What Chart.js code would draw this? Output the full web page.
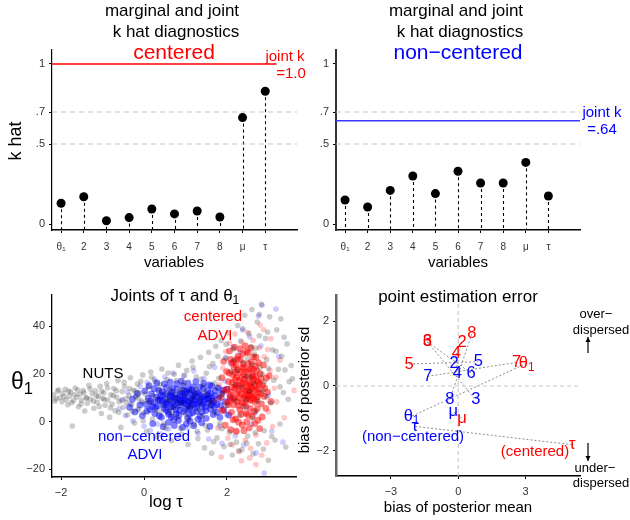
<!DOCTYPE html>
<html><head><meta charset="utf-8">
<script src="https://cdn.jsdelivr.net/npm/chart.js@4"></script>
<style>
body{margin:0;background:#fff}
#wrap{position:relative;width:630px;height:520px;overflow:hidden;background:#fff}
canvas{position:absolute}
</style></head>
<body><div id="wrap">
<canvas id="c1" width="315" height="280" style="left:0;top:0"></canvas>
<canvas id="c2" width="315" height="280" style="left:315px;top:0"></canvas>
<canvas id="c3" width="300" height="240" style="left:0;top:280px"></canvas>
<canvas id="c4" width="335" height="240" style="left:295px;top:280px"></canvas>
</div>
<script>
// ---------------- DATA ----------------
const variableLabels = ['θ₁','2','3','4','5','6','7','8','μ','τ'];
const khatCentered    = [0.13, 0.17, 0.02, 0.04, 0.094, 0.063, 0.081, 0.044, 0.665, 0.83];
const khatNonCentered = [0.15, 0.106, 0.21, 0.30, 0.19, 0.33, 0.256, 0.256, 0.385, 0.175];
const jointKCentered = 1.0;
const jointKNonCentered = 0.645;
const khatTicks = [0, 0.5, 0.7, 1];
const khatTickLabels = ['0', '.5', '.7', '1'];
const khatRefLines = [0.5, 0.7];

const nutsDraws = [[-2.18,11.2],[-2.12,9.6],[-2.09,12.8],[-2.03,10.1],[-1.98,8.4],[-1.96,11.9],[-1.9,13.6],[-1.88,9.2],[-1.84,7.1],[-1.8,10.7],[-1.77,12.4],[-1.73,-1.8],[-1.7,8.8],[-1.66,14.1],[-1.62,10.3],[-1.58,6.2],[-1.55,11.5],[-1.51,9.0],[-1.47,13.0],[-1.43,4.5],[-1.4,10.0],[-1.37,7.7],[-1.33,15.2],[-1.29,9.4],[-1.25,11.8],[-1.21,5.6],[-1.17,12.9],[-1.13,8.1],[-1.1,10.6],[-1.06,14.8],[-1.03,3.4],[-1.0,9.8],
[-0.97,12.1],[-0.94,6.9],[-0.9,16.0],[-0.87,9.1],[-0.83,1.9],[-0.8,11.3],[-0.77,7.4],[-0.73,13.9],[-0.7,4.6],[-0.66,10.2],[-0.63,17.3],[-0.6,8.3],[-0.56,-2.4],[-0.53,12.6],[-0.5,6.0],[-0.47,14.7],[-0.43,9.7],[-0.4,2.8],[-0.36,11.0],[-0.33,18.4],[-0.3,7.2],[-0.26,13.3],[-0.23,-0.6],[-0.2,10.5],[-0.16,15.8],[-0.13,5.3],[-0.1,12.0],[-0.06,8.6],[-0.03,19.6],[0.0,3.7],
[0.03,11.6],[0.06,-4.1],[0.1,14.5],[0.13,7.9],[0.16,20.8],[0.2,1.1],[0.23,10.8],[0.26,16.9],[0.3,-6.3],[0.33,9.3],[0.36,13.4],[0.4,4.0],[0.43,22.1],[0.46,7.0],[0.5,11.9],[0.53,-2.9],[0.56,17.6],[0.6,8.9],[0.63,14.0],[0.66,-8.0],[0.7,5.9],[0.73,19.9],[0.76,10.4],[0.8,1.6],[0.83,23.7],[0.86,12.8],[0.9,-5.2],[0.93,8.0],[0.96,16.3],[1.0,3.1],[1.03,21.5],[1.06,-9.6],[1.1,13.0],[1.13,6.5],[1.16,25.4],[1.2,-1.2],[1.23,11.7],[1.26,18.8],[1.3,-7.1],[1.33,9.8],[1.36,27.0],[1.4,2.3],[1.43,15.1],[1.46,-11.0],[1.5,20.3],
[0.55,9.5],[0.7,12.3],[0.85,6.4],[0.98,10.9],[1.12,8.7],[1.25,13.6],[1.38,7.5],[1.52,11.1],[1.64,9.0],[1.76,14.5],[0.62,5.0],[0.78,8.4],[0.92,13.7],[1.05,5.7],[1.18,10.2],[1.32,4.9],[1.45,12.5],[1.58,6.6],[1.7,16.2],[1.82,10.4],
[1.53,-3.5],[1.56,29.1],[1.6,8.1],[1.63,-13.2],[1.66,24.4],[1.7,3.8],[1.73,31.6],[1.76,-6.8],[1.8,18.2],[1.83,-0.7],[1.86,34.0],[1.9,12.0],[1.93,-10.4],[1.96,26.7],[2.0,6.9],[2.03,37.2],[2.06,-4.5],[2.1,21.0],[2.13,-14.0],[2.16,30.5],[2.2,15.5],[2.23,-8.6],[2.26,40.3],[2.3,2.6],
[2.33,33.8],[2.36,-11.8],[2.4,24.9],[2.43,44.6],[2.46,9.1],[2.5,-6.0],[2.53,36.9],[2.56,18.6],[2.6,47.0],[2.63,-13.5],[2.66,28.3],[2.7,4.4],[2.73,41.8],[2.76,-9.3],[2.8,22.7],[2.83,49.2],[2.86,13.1],[2.9,-3.8],[2.93,34.9],[2.96,26.0],[3.0,-16.2],[3.03,44.0],[3.06,7.8],[3.1,30.1],[3.13,17.4],[3.16,-7.7],[3.2,38.5],[3.24,22.0],[3.28,-1.0],[3.32,27.4],[3.36,12.2],[3.4,21.7],[3.45,32.6],[3.5,16.8],[3.42,-10.6],[3.3,43.1],[3.55,23.5],[2.45,19.0],[2.55,12.5],[2.65,16.0],[2.75,8.5],[2.35,14.5],[2.85,20.0],[2.95,10.5],[2.25,21.5],[2.7,30.8],[2.5,26.5],[2.4,6.0],[2.62,1.5],[2.78,36.0],
[-2.15,8.7],[-2.06,13.4],[-1.93,10.5],[-1.82,12.8],[-1.75,8.0],[-1.68,11.3],[-1.6,13.3],[-1.52,7.4],[-1.45,12.1],[-1.38,9.9],[-1.3,13.7],[-1.22,8.6],[-1.15,10.8],[-1.08,6.4],[-1.02,12.7],[-0.96,9.3],[-0.88,14.2],[-0.81,5.8],[-0.74,10.9],[-0.67,13.0],[-0.61,3.9],[-0.54,9.0],[-0.48,16.5],[-0.42,7.9],[-0.35,13.9],[-0.28,4.4],[-0.21,12.8],[-0.14,9.8],[-0.08,16.9],[-0.02,0.4],
[0.08,8.8],[0.18,18.6],[0.28,4.6],[0.38,15.6],[0.48,-0.9],[0.58,20.4],[0.68,3.3],[0.78,17.2],[0.88,-2.8],[0.98,19.4],[1.08,0.9],[1.18,22.8],[1.28,-4.0],[1.38,17.9],[1.48,-1.6],[1.58,23.1],[1.68,-8.4],[1.78,27.4],[1.88,-3.0],[1.98,32.5],[2.08,-9.5],[2.18,25.8],[2.28,-12.2],[2.38,38.9],[2.48,-9.0],[2.58,31.4],[2.68,-4.6],[2.78,45.0],[2.88,-11.5],[2.98,37.6],[3.08,-6.2],[3.18,29.5],[3.28,14.6],[3.38,35.4],[3.48,9.4],[3.58,18.0],[2.9,16.6],[3.0,22.4],[2.6,24.0],[2.2,8.9]];

const nonCenteredDense = [[0.05,7.2],[0.1,9.8],[0.14,5.1],[0.18,11.6],[0.22,8.0],[0.26,3.4],[0.3,10.3],[0.33,6.6],[0.36,13.1],[0.39,8.9],[0.42,1.8],[0.45,11.0],[0.48,5.7],[0.51,9.4],[0.54,14.3],[0.57,7.3],[0.6,3.0],[0.62,10.7],[0.65,6.1],[0.67,12.5],[0.7,8.4],[0.72,0.9],[0.75,9.9],[0.77,5.0],[0.8,13.6],[0.82,7.8],[0.84,2.6],[0.87,11.4],[0.89,6.9],[0.91,9.1],[0.94,15.0],[0.96,4.2],[0.98,10.0],[1.0,7.5],[1.03,12.8],[1.05,1.5],[1.07,8.6],[1.1,5.5],[1.12,11.9],[1.14,9.3],[1.17,3.7],[1.19,14.6],[1.22,7.0],[1.24,10.5],[1.27,5.9],[1.29,12.2],[1.32,8.2],[1.35,2.2],[1.37,10.9],[1.4,6.4],[1.43,13.9],[1.46,8.8],[1.49,4.6],[1.52,11.3],[1.55,7.7],[1.58,15.4],[1.61,5.3],[1.64,10.1],[1.68,8.0],[1.72,12.9],[1.76,3.9],[1.8,9.6],[1.85,6.8],[1.9,13.2],
[0.2,6.3],[0.35,9.0],[0.5,7.1],[0.64,8.8],[0.76,11.2],[0.86,4.8],[0.95,7.9],[1.04,10.3],[1.13,6.3],[1.23,9.0],[1.33,11.6],[1.42,7.4],[1.51,9.5],[1.6,12.1],[1.7,6.0],[0.44,12.6],[0.58,4.1],[0.71,6.2],[0.81,9.6],[0.92,12.0],[1.01,5.2],[1.09,8.0],[1.18,11.0],[1.28,7.4],[1.38,9.8],[1.48,6.1],[1.57,10.6],[1.66,8.6],[0.68,10.2],[0.88,8.3],[1.08,13.5],[1.26,4.3],[1.45,10.4],[0.98,9.0],[1.16,7.6],[0.78,3.4],
[-0.35,6.0],[-0.28,9.4],[-0.22,4.1],[-0.16,11.8],[-0.1,7.0],[-0.04,2.5],[0.02,12.9],[0.07,4.4],[0.12,15.1],[0.16,8.7],[0.21,-0.8],[0.24,13.8],[0.28,5.9],[0.31,16.2],[0.37,2.4],[0.4,10.8],[0.46,-2.1],[0.49,15.8],[0.53,4.9],[0.56,11.8],[0.59,-0.3],[0.63,16.6],[0.66,2.0],[0.69,14.1],[0.73,-1.6],[0.79,15.9],[0.83,0.5],[0.9,17.0],[0.93,-2.4],[0.97,13.0],[1.02,-0.9],[1.06,16.1],[1.11,0.2],[1.15,13.4],[1.2,-1.7],[1.25,16.8],[1.3,1.0],[1.34,14.5],[1.39,-0.5],[1.44,16.0],[1.5,1.4],[1.54,13.0],[1.59,-2.0],[1.63,15.0],[1.67,3.0],[1.71,10.9],[1.75,7.2],[1.79,14.2],[1.83,1.8],[1.87,11.6],[1.92,5.0],[1.96,8.4],[2.0,13.6],[2.04,2.8],[2.08,10.2],[0.55,8.0],[0.74,7.1],[0.9,10.6],[1.06,6.7],[1.22,12.0],[1.36,8.6],[1.55,9.6],[1.2,9.4],[0.84,9.0],[1.0,12.1],[0.64,11.4],[1.4,4.0],[1.1,3.0],[0.45,8.4],[1.62,7.1]];
const nonCenteredSparse = [[-0.6,5.5],[-0.52,9.2],[-0.45,2.6],[-0.4,12.4],[-0.33,7.3],[-0.27,0.4],[-0.2,10.6],[-0.15,4.9],[-0.1,14.8],[-0.05,8.0],[0.0,-1.9],[0.08,16.4],[0.15,-3.6],[0.25,17.9],[0.32,-1.0],[0.41,-5.2],[0.5,18.7],[0.6,-3.1],[0.7,20.4],[0.82,-6.4],[0.95,19.2],[1.06,-2.5],[1.2,21.3],[1.3,-4.9],[1.45,18.1],[1.56,-7.3],[1.7,22.8],[1.82,-1.8],[1.95,17.0],[2.0,3.0],[2.08,24.6],[2.12,9.5],[2.2,-5.9],[2.25,15.5],[2.32,29.2],[2.4,-9.8],[2.48,6.0],[2.55,35.6],[2.62,20.2],[2.7,-13.1],[2.76,44.3],[2.85,48.8],[2.9,-21.5],[3.0,11.0],[3.08,-4.0],[3.18,47.2],[3.25,27.3],[3.35,-8.6],[2.38,38.4],[2.6,-1.0],[2.15,31.4],[1.98,26.8],[1.88,-9.1],[2.45,12.8],[2.68,3.6],[2.82,31.8]];

const centeredDense = [[2.0,13.5],[2.03,7.1],[2.05,20.4],[2.07,11.2],[2.09,26.1],[2.11,3.9],[2.13,16.5],[2.15,9.6],[2.17,22.8],[2.19,14.1],[2.21,1.2],[2.23,18.7],[2.25,8.4],[2.27,27.5],[2.29,12.6],[2.31,5.0],[2.33,20.9],[2.35,15.7],[2.37,-1.4],[2.39,24.2],[2.41,10.3],[2.43,17.9],[2.45,6.6],[2.47,29.3],[2.49,13.0],[2.51,2.8],[2.53,21.6],[2.55,16.1],[2.57,8.9],[2.59,25.0],[2.61,11.8],[2.63,19.4],[2.65,4.3],[2.67,14.8],[2.69,23.3],[2.71,9.2],[2.73,17.0],[2.75,0.6],[2.77,12.2],[2.8,20.1],[2.83,7.4],[2.86,15.3],[2.9,10.6],[2.95,18.3],
[2.04,16.8],[2.1,12.3],[2.14,19.6],[2.18,10.0],[2.22,15.0],[2.26,21.7],[2.3,17.2],[2.34,11.4],[2.38,13.8],[2.42,22.4],[2.46,15.9],[2.5,18.6],[2.54,12.9],[2.58,14.5],[2.62,16.7],[2.66,10.8],[2.7,19.0],[2.74,13.7],[2.78,15.6],[2.82,11.7],[2.08,9.0],[2.16,25.2],[2.24,12.0],[2.28,6.8],[2.36,8.0],[2.4,19.8],[2.44,13.2],[2.48,9.7],[2.52,24.3],[2.56,5.6],[2.6,14.0],[2.64,27.2],[2.68,8.1],[2.72,21.3],[2.76,16.4],[2.32,26.0],[2.2,17.6],[2.12,14.4],[2.56,11.0],[2.46,3.5],
[1.86,10.2],[1.88,18.4],[1.9,4.6],[1.92,25.3],[1.94,13.0],[1.96,-1.5],[1.99,21.0],[2.01,8.1],[2.06,29.6],[2.09,-3.4],[2.12,24.5],[2.15,0.8],[2.18,31.2],[2.22,-4.0],[2.25,26.3],[2.28,-0.2],[2.31,30.6],[2.35,3.1],[2.38,28.4],[2.41,-3.8],[2.44,31.8],[2.48,0.0],[2.51,28.9],[2.54,-2.6],[2.58,30.9],[2.61,2.2],[2.64,22.0],[2.67,-0.8],[2.7,27.0],[2.73,5.5],[2.76,24.7],[2.79,-2.9],[2.82,18.0],[2.85,2.0],[2.88,23.8],[2.91,14.0],[2.94,5.6],[2.98,12.4],[3.02,19.2],[3.06,8.5],[2.3,10.0],[2.4,16.4],[2.5,11.2],[2.6,19.0],[2.7,13.4],[2.2,20.5],[2.34,18.4],[2.47,20.8],[2.55,9.4],[2.65,17.8],[2.28,14.9],[2.42,7.8],[2.52,15.2],[2.62,9.8],[2.16,7.0],[2.74,10.4],[2.38,22.8],[2.58,22.2],[2.44,10.9],[2.22,23.6]];
const centeredSparse = [[1.72,9.0],[1.78,-2.7],[1.82,15.6],[1.86,-14.8],[1.9,22.5],[1.93,4.8],[1.97,29.4],[2.02,-6.9],[2.06,33.0],[2.13,-9.7],[2.19,36.8],[2.24,-4.3],[2.3,-12.6],[2.36,33.4],[2.44,-7.8],[2.5,37.5],[2.57,-11.2],[2.63,34.1],[2.7,-5.6],[2.78,31.0],[2.84,-14.1],[2.9,27.2],[2.96,-8.9],[3.0,4.2],[3.04,21.5],[3.1,-2.0],[3.14,14.0],[3.2,8.3],[3.28,25.8],[3.38,1.6],[3.62,13.1],[3.06,34.8],[2.88,38.6],[2.55,-15.2],[2.7,-18.0],[2.35,-16.4],[2.98,30.2],[3.18,18.6],[1.85,5.2],[2.8,40.5]];
const logTauTicks = [-2, 0, 2];
const theta1Ticks = [-20, 0, 20, 40];

const meanBiasCentered    = [3.05, 0.17, -1.38, -0.08, -2.19, -1.38, 2.6, 0.61, 0.17, 5.08];
const sdBiasCentered      = [0.70, 1.36, 1.37, 1.02, 0.68, 1.37, 0.73, 1.62, -1.0, -1.82];
const meanBiasNonCentered = [-2.08, -0.18, 0.78, -0.04, 0.9, 0.57, -1.36, -0.37, -0.22, -1.94];
const sdBiasNonCentered   = [-0.94, 0.70, -0.43, 0.38, 0.75, 0.40, 0.30, -0.42, -0.80, -1.25];
const biasMeanTicks = [-3, 0, 3];
const biasSdTicks = [-2, 0, 2];

// ---------------- HELPERS ----------------
const FONT = "'Liberation Sans', Arial, Helvetica, sans-serif";
Chart.defaults.font.family = FONT;
Chart.defaults.color = '#333';
const RED = '#ff0000', BLUE = '#0000ff';

function drawRich(ctx, text, x, y, size, color, align) {
  ctx.fillStyle = color; ctx.textBaseline = 'middle';
  const parts = text.split('₁');
  ctx.font = size + 'px ' + FONT;
  if (parts.length === 1) { ctx.textAlign = align || 'center'; ctx.fillText(text, x, y); return; }
  const w1 = ctx.measureText(parts[0]).width;
  const ss = size * 0.72;
  ctx.font = ss + 'px ' + FONT; const w2 = ctx.measureText('1').width;
  ctx.font = size + 'px ' + FONT; const w3 = ctx.measureText(parts[1]).width;
  const total = w1 + w2 + w3;
  const a = align || 'center';
  let x0 = a === 'center' ? x - total / 2 : (a === 'right' ? x - total : x);
  ctx.textAlign = 'left';
  ctx.fillText(parts[0], x0, y);
  ctx.font = ss + 'px ' + FONT; ctx.fillText('1', x0 + w1, y + size * 0.28);
  ctx.font = size + 'px ' + FONT; ctx.fillText(parts[1], x0 + w1 + w2, y);
}

function textPlugin(items, offX, offY, extra) {
  return { id: 'texts', afterDraw(chart) {
    const ctx = chart.ctx; ctx.save();
    items.forEach(it => {
      const x = it.x - offX, y = it.y - offY;
      if (it.rot) {
        ctx.save(); ctx.translate(x, y); ctx.rotate(-Math.PI / 2);
        drawRich(ctx, it.t, 0, 0, it.size, it.color || '#000', 'center'); ctx.restore();
      } else drawRich(ctx, it.t, x, y, it.size, it.color || '#000', it.align || 'center');
    });
    if (extra) extra(ctx, offX, offY);
    ctx.restore();
  }};
}

const stemPlugin = { id: 'stems', beforeDatasetsDraw(chart) {
  const meta = chart.getDatasetMeta(0); const ctx = chart.ctx;
  const yb = chart.chartArea.bottom;
  ctx.save(); ctx.setLineDash([3, 3]); ctx.strokeStyle = '#000'; ctx.lineWidth = 1.1;
  meta.data.forEach(p => { ctx.beginPath(); ctx.moveTo(Math.round(p.x) + 0.5, p.y); ctx.lineTo(Math.round(p.x) + 0.5, yb); ctx.stroke(); });
  ctx.restore();
}};

function fixedTicks(vals) { return s => { s.ticks = vals.map(v => ({ value: v })); }; }
function fmtMinus(v) { return String(v).replace('-', '−'); }

const K_XMIN = 0.6, K_XMAX = 11.4, K_YMIN = -0.0375, K_YMAX = 1.0875;

function khatChart(id, vals, joint, jointColor, jointEnd, yWidth, padRight, yBorder, texts, offX) {
  return new Chart(document.getElementById(id), {
    type: 'scatter',
    data: { datasets: [
      { data: vals.map((v, i) => ({ x: i + 1, y: v })), pointRadius: 4.5, pointHoverRadius: 4.5, backgroundColor: '#000', borderColor: '#000', borderWidth: 0, order: 0 },
      { data: [{ x: K_XMIN, y: joint }, { x: jointEnd, y: joint }], showLine: true, borderColor: jointColor, borderWidth: 1.4, pointRadius: 0, order: 1 },
      ...khatRefLines.map(r => ({ data: [{ x: K_XMIN, y: r }, { x: K_XMAX, y: r }], showLine: true, borderColor: '#c6c6c6', borderDash: [5, 4], borderWidth: 1.1, pointRadius: 0, order: 2 }))
    ]},
    options: {
      responsive: false, animation: false, events: [],
      layout: { padding: { left: 0, right: padRight, top: 50, bottom: 10 } },
      plugins: { legend: { display: false }, tooltip: { enabled: false } },
      scales: {
        x: { type: 'linear', min: K_XMIN, max: K_XMAX, afterBuildTicks: fixedTicks(variableLabels.map((_, i) => i + 1)),
             afterFit: s => { s.height = 40; },
             ticks: { callback: (v, i) => variableLabels[i], autoSkip: false, maxRotation: 0, padding: 8, font: { size: 10 }, color: '#333' },
             grid: { display: true, drawOnChartArea: false, drawTicks: true, tickLength: 3, color: '#000' },
             border: { display: true, color: '#000', width: 1.6 } },
        y: { type: 'linear', min: K_YMIN, max: K_YMAX, afterBuildTicks: fixedTicks(khatTicks),
             afterFit: s => { s.width = yWidth; },
             ticks: { callback: (v, i) => khatTickLabels[i], padding: 4, font: { size: 11 }, color: '#333' },
             grid: { display: true, drawOnChartArea: false, drawTicks: true, tickLength: 3, color: '#000' },
             border: yBorder }
      }
    },
    plugins: [stemPlugin, textPlugin(texts, offX, 0)]
  });
}

// ---------------- PANEL 1 & 2 ----------------
khatChart('c1', khatCentered, jointKCentered, RED, 10.5, 52, 18, { display: true, color: '#000', width: 1.2 }, [
  { t: 'marginal and joint', x: 172, y: 11, size: 17 },
  { t: 'k hat diagnostics', x: 176, y: 32, size: 17 },
  { t: 'centered', x: 174, y: 53, size: 21, color: RED },
  { t: 'joint k', x: 285, y: 57, size: 15, color: RED },
  { t: '=1.0', x: 291, y: 74, size: 15, color: RED },
  { t: 'k hat', x: 16, y: 141, size: 18, rot: true },
  { t: 'variables', x: 174, y: 263, size: 15 }
], 0);

khatChart('c2', khatNonCentered, jointKNonCentered, '#3a3aff', K_XMAX, 21, 50, { display: true, color: '#333', width: 2 }, [
  { t: 'marginal and joint', x: 456, y: 11, size: 17 },
  { t: 'k hat diagnostics', x: 460, y: 32, size: 17 },
  { t: 'non−centered', x: 458, y: 53, size: 21, color: BLUE },
  { t: 'joint k', x: 602, y: 113, size: 15, color: BLUE },
  { t: '=.64', x: 602, y: 130, size: 15, color: BLUE },
  { t: 'variables', x: 458, y: 263, size: 15 }
], 315);

// ---------------- PANEL 3 ----------------
const toXY = a => a.map(p => ({ x: p[0], y: p[1] }));
function cloud(pts, color, r, ord) {
  return { data: toXY(pts), backgroundColor: color, borderWidth: 0, pointRadius: r, pointHoverRadius: r, order: ord };
}
new Chart(document.getElementById('c3'), {
  type: 'scatter',
  data: { datasets: [
    cloud(nutsDraws, 'rgba(0,0,0,0.2)', 2.8, 0),
    cloud(centeredSparse, 'rgba(255,0,0,0.22)', 2.8, 1),
    cloud(centeredDense, 'rgba(255,0,0,0.5)', 3.4, 2),
    cloud(nonCenteredSparse, 'rgba(0,0,255,0.2)', 2.8, 3),
    cloud(nonCenteredDense, 'rgba(0,0,255,0.5)', 3.4, 4)
  ]},
  options: {
    responsive: false, animation: false, events: [],
    layout: { padding: { left: 0, right: 3, top: 15, bottom: 10 } },
    plugins: { legend: { display: false }, tooltip: { enabled: false } },
    scales: {
      x: { type: 'linear', min: -2.22, max: 3.68, afterBuildTicks: fixedTicks(logTauTicks), afterFit: s => { s.height = 33; },
           ticks: { callback: v => fmtMinus(v), padding: 6, font: { size: 11 }, color: '#333', maxRotation: 0 },
           grid: { display: true, drawOnChartArea: false, tickLength: 3, color: '#000' },
           border: { display: true, color: '#000', width: 1.5 } },
      y: { type: 'linear', min: -23.2, max: 53.1, afterBuildTicks: fixedTicks(theta1Ticks), afterFit: s => { s.width = 52; },
           ticks: { callback: v => fmtMinus(v), padding: 4, font: { size: 11 }, color: '#333' },
           grid: { display: true, drawOnChartArea: false, tickLength: 3, color: '#000' },
           border: { display: true, color: '#000', width: 1.3 } }
    }
  },
  plugins: [textPlugin([
    { t: 'Joints of τ and θ₁', x: 175, y: 296, size: 17 },
    { t: 'NUTS', x: 103, y: 374, size: 15 },
    { t: 'centered', x: 213, y: 317, size: 15, color: RED },
    { t: 'ADVI', x: 215, y: 336, size: 15, color: RED },
    { t: 'non−centered', x: 144, y: 437, size: 15, color: BLUE },
    { t: 'ADVI', x: 145, y: 455, size: 15, color: BLUE },
    { t: 'θ₁', x: 22, y: 383, size: 23 },
    { t: 'log τ', x: 166, y: 502, size: 17 }
  ], 0, 280)]
});

// ---------------- PANEL 4 ----------------
const P_XMIN = -5.45, P_XMAX = 5.43, P_YMIN = -2.79, P_YMAX = 2.82;
const labelPlugin = { id: 'ptlabels', afterDatasetsDraw(chart) {
  const ctx = chart.ctx; ctx.save();
  chart.data.datasets.forEach((ds, di) => {
    if (!ds.labelColor) return;
    chart.getDatasetMeta(di).data.forEach((p, i) => drawRich(ctx, variableLabels[i], p.x, p.y, 16.5, ds.labelColor, 'center'));
  });
  ctx.restore();
}};
function arrows(ctx, offX, offY) {
  ctx.strokeStyle = '#000'; ctx.fillStyle = '#000'; ctx.lineWidth = 1.2; ctx.setLineDash([]);
  const ax = 588 - offX;
  const seg = (y1, y2) => {
    ctx.beginPath(); ctx.moveTo(ax, y1 - offY); ctx.lineTo(ax, y2 - offY); ctx.stroke();
    const d = y2 > y1 ? 1 : -1;
    ctx.beginPath(); ctx.moveTo(ax, y2 - offY); ctx.lineTo(ax - 2.5, y2 - offY - d * 5); ctx.lineTo(ax + 2.5, y2 - offY - d * 5); ctx.closePath(); ctx.fill();
  };
  seg(353, 337); seg(443, 461);
}
new Chart(document.getElementById('c4'), {
  type: 'scatter',
  data: { datasets: [
    { data: [{ x: 0, y: P_YMIN }, { x: 0, y: P_YMAX }], showLine: true, borderColor: '#c8c8c8', borderDash: [4, 3], borderWidth: 1.1, pointRadius: 0 },
    { data: [{ x: P_XMIN, y: 0 }, { x: P_XMAX, y: 0 }], showLine: true, borderColor: '#c8c8c8', borderDash: [4, 3], borderWidth: 1.1, pointRadius: 0 },
    ...variableLabels.map((_, i) => ({ data: [{ x: meanBiasCentered[i], y: sdBiasCentered[i] }, { x: meanBiasNonCentered[i], y: sdBiasNonCentered[i] }],
      showLine: true, borderColor: '#8c8c8c', borderDash: [2, 2], borderWidth: 1, pointRadius: 0 })),
    { data: meanBiasNonCentered.map((v, i) => ({ x: v, y: sdBiasNonCentered[i] })), pointRadius: 0, labelColor: BLUE },
    { data: meanBiasCentered.map((v, i) => ({ x: v, y: sdBiasCentered[i] })), pointRadius: 0, labelColor: RED }
  ]},
  options: {
    responsive: false, animation: false, events: [],
    layout: { padding: { left: 0, right: 50, top: 15, bottom: 10 } },
    plugins: { legend: { display: false }, tooltip: { enabled: false } },
    scales: {
      x: { type: 'linear', min: P_XMIN, max: P_XMAX, afterBuildTicks: fixedTicks(biasMeanTicks), afterFit: s => { s.height = 34; },
           ticks: { callback: v => fmtMinus(v), padding: 6, font: { size: 11 }, color: '#333', maxRotation: 0 },
           grid: { display: true, drawOnChartArea: false, tickLength: 3, color: '#000' },
           border: { display: true, color: '#000', width: 1.5 } },
      y: { type: 'linear', min: P_YMIN, max: P_YMAX, afterBuildTicks: fixedTicks(biasSdTicks), afterFit: s => { s.width = 41; },
           ticks: { callback: v => fmtMinus(v), padding: 4, font: { size: 11 }, color: '#333' },
           grid: { display: true, drawOnChartArea: false, tickLength: 3, color: '#000' },
           border: { display: true, color: '#666', width: 2.5 } }
    }
  },
  plugins: [labelPlugin, textPlugin([
    { t: 'point estimation error', x: 458, y: 297, size: 17 },
    { t: 'bias of posterior mean', x: 458, y: 508, size: 15 },
    { t: 'bias of posterior sd', x: 305, y: 390, size: 15, rot: true },
    { t: 'over−', x: 596, y: 314, size: 13 },
    { t: 'dispersed', x: 601, y: 330, size: 13 },
    { t: 'under−', x: 595, y: 468, size: 13 },
    { t: 'dispersed', x: 601, y: 483, size: 13 },
    { t: '(non−centered)', x: 413, y: 437, size: 15, color: BLUE },
    { t: '(centered)', x: 535, y: 452, size: 15, color: RED }
  ], 295, 280, arrows)]
});
</script>
</body></html>
